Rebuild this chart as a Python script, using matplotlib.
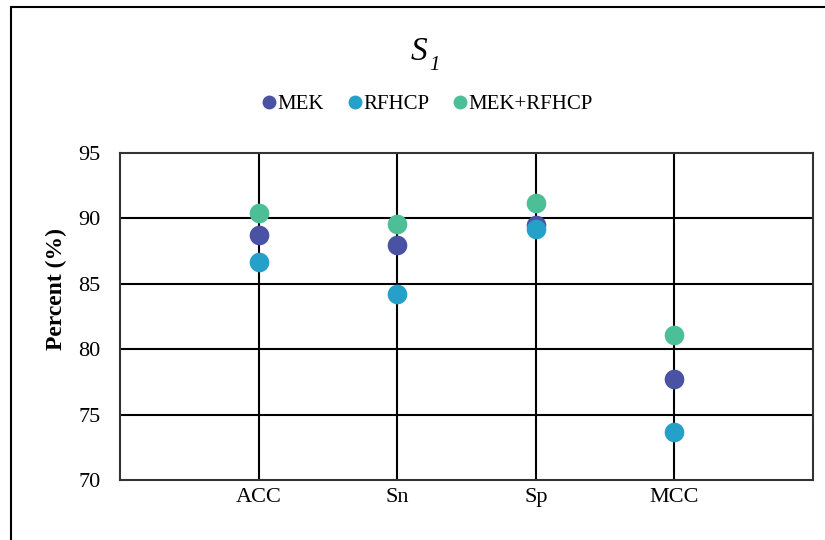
import matplotlib
matplotlib.use("Agg")
import matplotlib.pyplot as plt
from matplotlib.lines import Line2D
from matplotlib.patches import Rectangle

plt.rcParams['font.family'] = ['Liberation Serif', 'DejaVu Serif']

categories = ["ACC", "Sn", "Sp", "MCC"]
mek = [88.7, 88.0, 89.5, 77.7]
rfhcp = [86.7, 84.2, 89.2, 73.65]
mek_rfhcp = [90.4, 89.6, 91.15, 81.05]
series_names = ["MEK", "RFHCP", "MEK+RFHCP"]
colors = ["#4A52A4", "#25A0C8", "#4DBF97"]

fig = plt.figure(figsize=(8.25, 5.4), dpi=100)
fig.patches.append(Rectangle((11/825, -0.2), 1.2, 1 - 7/540 + 0.2, transform=fig.transFigure,
                             fill=False, edgecolor='black', linewidth=1.5))

ax = fig.add_axes([120/825, (540-480)/540, (813-120)/825, (480-153)/540])
x = list(range(1, len(categories) + 1))

ax.set_xlim(0, 5)
ax.set_ylim(70, 95)
ax.set_yticks([70, 75, 80, 85, 90, 95])
ax.set_xticks(x)
ax.set_xticklabels(categories)
ax.tick_params(axis='both', length=0, labelsize=16)
ax.tick_params(axis='x', pad=6)
ax.tick_params(axis='y', pad=14)
for yv in [75, 80, 85, 90]:
    ax.axhline(yv, color='black', linewidth=1.5, zorder=1)
for xv in x:
    ax.axvline(xv, color='black', linewidth=1.5, zorder=1)
for s in ax.spines.values():
    s.set_color('#333333')
    s.set_linewidth(1.5)

for vals, c in zip([mek, rfhcp, mek_rfhcp], colors):
    ax.scatter(x, vals, s=200, color=c, zorder=3, linewidths=0)

ax.set_ylabel("Percent (%)", fontsize=17, fontweight='bold')
ax.yaxis.set_label_coords(-0.077, 0.585)

fig.text(0.508, 0.905, "S", ha='center', va='center', fontsize=24, style='italic')
fig.text(0.527, 0.878, "1", ha='center', va='center', fontsize=15, style='italic')

handles = [Line2D([], [], marker='o', linestyle='none', markersize=10, color=c,
                  markeredgewidth=0) for c in colors]
fig.legend(handles, series_names, loc='center', bbox_to_anchor=(0.516, 0.807), ncol=3,
           frameon=False, fontsize=15, handletextpad=-0.1, columnspacing=1.0, handlelength=1.0)

fig.savefig("out.png", dpi=100)
